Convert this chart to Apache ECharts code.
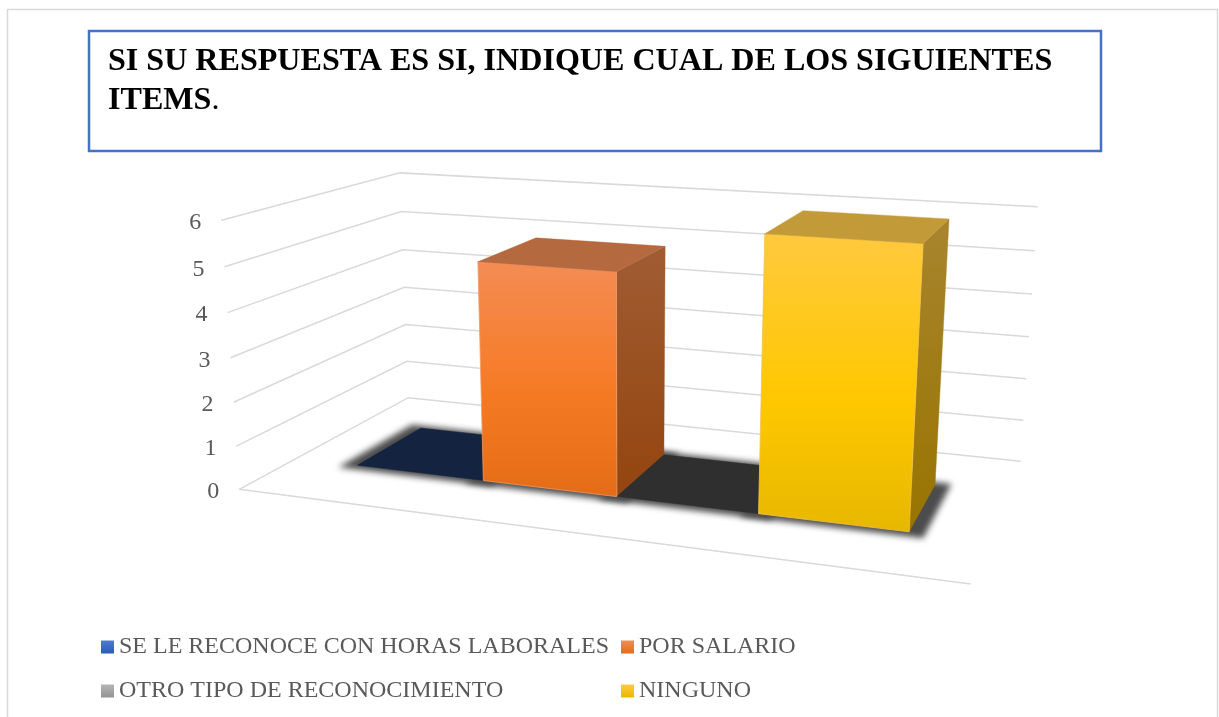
<!DOCTYPE html>
<html>
<head>
<meta charset="utf-8">
<style>html,body{margin:0;padding:0;background:#fff;overflow:hidden}#c{width:1219px;height:717px}</style>
<script src="https://cdn.jsdelivr.net/npm/echarts@6/dist/echarts.min.js"></script>
</head>
<body>
<div id="c"></div>
<script>
// ---- data ----
var titleLine1 = 'SI SU RESPUESTA ES SI, INDIQUE CUAL DE LOS SIGUIENTES';
var titleLine2 = 'ITEMS';
var seriesNames = ['SE LE RECONOCE CON HORAS LABORALES', 'POR SALARIO', 'OTRO TIPO DE RECONOCIMIENTO', 'NINGUNO'];
var seriesValues = [0, 5, 0, 6];
var yTicks = [0, 1, 2, 3, 4, 5, 6];

// ---- styles ----
var SERIF = '"Liberation Serif","Times New Roman",serif';
var legendColors = [['#4F7BD0', '#2A5BB8'], ['#F58C52', '#E56C15'], ['#B5B5B5', '#939393'], ['#FFCB3A', '#E8B800']];
var frontStops = [null, ['#F48C54', '#F67A24', '#E56C16'], null, ['#FFC93F', '#FFC800', '#E7B700']];
var sideStops = [null, ['#A05C33', '#94450E'], null, ['#A8842E', '#987400']];
var topColors = ['#14233F', '#B5693F', '#2F2F2F', '#C29A37'];
var edgeColors = [null, '#F39A66', null, '#F3C24A'];

// ---- oblique 3D frame: maps (u across, v depth, h up; each 0..1) to the page ----
var P0 = [239.3, 489.3], PU = [589.2, 9.1], PV = [253.2, -9.6], PH = [-27.8, -278.8];
var WU = -0.1465, WV = 0.2063, WH = -0.0442;
var V_FRONT = 0.3, V_BACK = 0.7, X_SLOTS = 5;
var OFFSCREEN = 3000;
function project(u, v, h) {
  var w = 1 + WU * u + WV * v + WH * h;
  return [(P0[0] + PU[0] * u + PV[0] * v + PH[0] * h) / w,
          (P0[1] + PU[1] * u + PV[1] * v + PH[1] * h) / w];
}
function toUH(pt, cs) { return [(pt[0] - cs.x) / cs.width, (cs.y + cs.height - pt[1]) / cs.height]; }
function quad(pts, fill, stroke) {
  return { type: 'polygon', shape: { points: pts },
    style: { fill: fill, stroke: stroke || fill, lineWidth: stroke ? 0.8 : 0.4 } };
}
function vGrad(stops) {
  return new echarts.graphic.LinearGradient(0, 0, 0, 1, stops.map(function (c, i) {
    return { offset: stops.length === 3 ? [0, 0.55, 1][i] : i, color: c };
  }));
}

function renderBar(params, api) {
  var cs = params.coordSys, i = params.seriesIndex - 2;
  var x = api.value(0), val = api.value(1);
  var a = toUH(api.coord([x - 0.5, 0]), cs), b = toUH(api.coord([x + 0.5, val]), cs);
  var u0 = a[0], u1 = b[0], h = b[1];
  var p = project, kids = [];
  if (val > 0) {
    kids.push(quad([p(u1, V_FRONT, 0), p(u1, V_BACK, 0), p(u1, V_BACK, h), p(u1, V_FRONT, h)], vGrad(sideStops[i])));
    kids.push(quad([p(u0, V_FRONT, 0), p(u1, V_FRONT, 0), p(u1, V_FRONT, h), p(u0, V_FRONT, h)], vGrad(frontStops[i]), edgeColors[i]));
  }
  kids.push(quad([p(u0, V_FRONT, h), p(u1, V_FRONT, h), p(u1, V_BACK, h), p(u0, V_BACK, h)], topColors[i]));
  return { type: 'group', children: kids };
}

// Soft floor shadow: only the blurred shadow of an off-page polygon is visible.
function renderShadow(params, api) {
  var cs = params.coordSys, x = api.value(0);
  var a = toUH(api.coord([x - 0.5, 0]), cs), b = toUH(api.coord([x + 0.5, 0]), cs);
  var du = 0.021, dvF = 0.035, dvB = 0.022;
  var pts = [project(a[0] - du, V_FRONT - dvF, 0), project(b[0] + du, V_FRONT - dvF, 0),
             project(b[0] + du, V_BACK + dvB, 0), project(a[0] - du, V_BACK + dvB, 0)];
  return { type: 'polygon',
    shape: { points: pts.map(function (q) { return [q[0] - OFFSCREEN, q[1]]; }) },
    style: { fill: '#000', shadowBlur: 6, shadowColor: '#4C4C4C', shadowOffsetX: OFFSCREEN } };
}

function renderWall(params, api) {
  var cs = params.coordSys, tick = api.value(0);
  var h = toUH(api.coord([0, tick]), cs)[1];
  var front = project(0, 0, h), corner = project(0, 1, h), back = project(1, 1, h);
  var kids = [
    { type: 'polyline', shape: { points: [front, corner, back] },
      style: { fill: 'none', stroke: '#D9D9D9', lineWidth: 1.5 } },
    { type: 'text', style: { text: String(tick), x: front[0] - 20, y: front[1] + 2.5,
        align: 'right', verticalAlign: 'middle', fill: '#595959', font: '24px ' + SERIF } }
  ];
  if (tick === 0) {
    kids.push({ type: 'polyline', shape: { points: [front, project(1, 0, 0)] },
      style: { fill: 'none', stroke: '#D9D9D9', lineWidth: 1.5 } });
  }
  return { type: 'group', children: kids };
}

var series = [
  { type: 'custom', name: 'walls', renderItem: renderWall, silent: true, clip: false,
    data: yTicks.map(function (t) { return [t]; }), encode: { y: 0 } },
  { type: 'custom', name: 'floorShadow', renderItem: renderShadow, silent: true, clip: false,
    data: seriesValues.map(function (v, i) { return [i + 1, v]; }), encode: { x: 0, y: 1 } }
].concat(seriesNames.map(function (name, i) {
  return { type: 'custom', name: name, renderItem: renderBar, clip: false,
    itemStyle: { color: new echarts.graphic.LinearGradient(0, 0, 0, 1, [
      { offset: 0, color: legendColors[i][0] }, { offset: 1, color: legendColors[i][1] }]) },
    data: [[i + 1, seriesValues[i]]], encode: { x: 0, y: 1 } };
}));

var legendPos = [[101, 635], [621, 635], [101, 679], [621, 679]];
var chart = echarts.init(document.getElementById('c'));
chart.setOption({
  animation: false,
  backgroundColor: '#fff',
  title: {
    left: 108, top: 42, padding: 0,
    text: '{b|' + titleLine1 + '}\n{b|' + titleLine2 + '}{n|.}',
    textStyle: { rich: {
      b: { fontFamily: SERIF, fontWeight: 'bold', fontSize: 32.1, lineHeight: 39, color: '#000' },
      n: { fontFamily: SERIF, fontWeight: 'normal', fontSize: 32.1, lineHeight: 39, color: '#000' }
    } }
  },
  graphic: [
    { type: 'rect', z: -1, silent: true, shape: { x: 7.5, y: 9.5, width: 1210, height: 760 },
      style: { fill: '#fff', stroke: '#D9D9D9', lineWidth: 1.5 } },
    { type: 'rect', z: 0, silent: true, shape: { x: 89, y: 31, width: 1012, height: 120 },
      style: { fill: 'none', stroke: '#4472C4', lineWidth: 2.5 } }
  ],
  grid: { left: 100, top: 100, width: 500, height: 300, containLabel: false },
  xAxis: { type: 'value', min: 0, max: X_SLOTS, show: false },
  yAxis: { type: 'value', min: 0, max: 6, interval: 1, show: false },
  legend: seriesNames.map(function (name, i) {
    return { data: [name], left: legendPos[i][0], top: legendPos[i][1], orient: 'horizontal', padding: 0,
      icon: 'rect', itemWidth: 13, itemHeight: 13, itemGap: 5, selectedMode: false,
      textStyle: { fontFamily: SERIF, fontSize: 24, color: '#595959', padding: [0, 0, 0, 0] } };
  }),
  series: series
});
</script>
</body>
</html>
